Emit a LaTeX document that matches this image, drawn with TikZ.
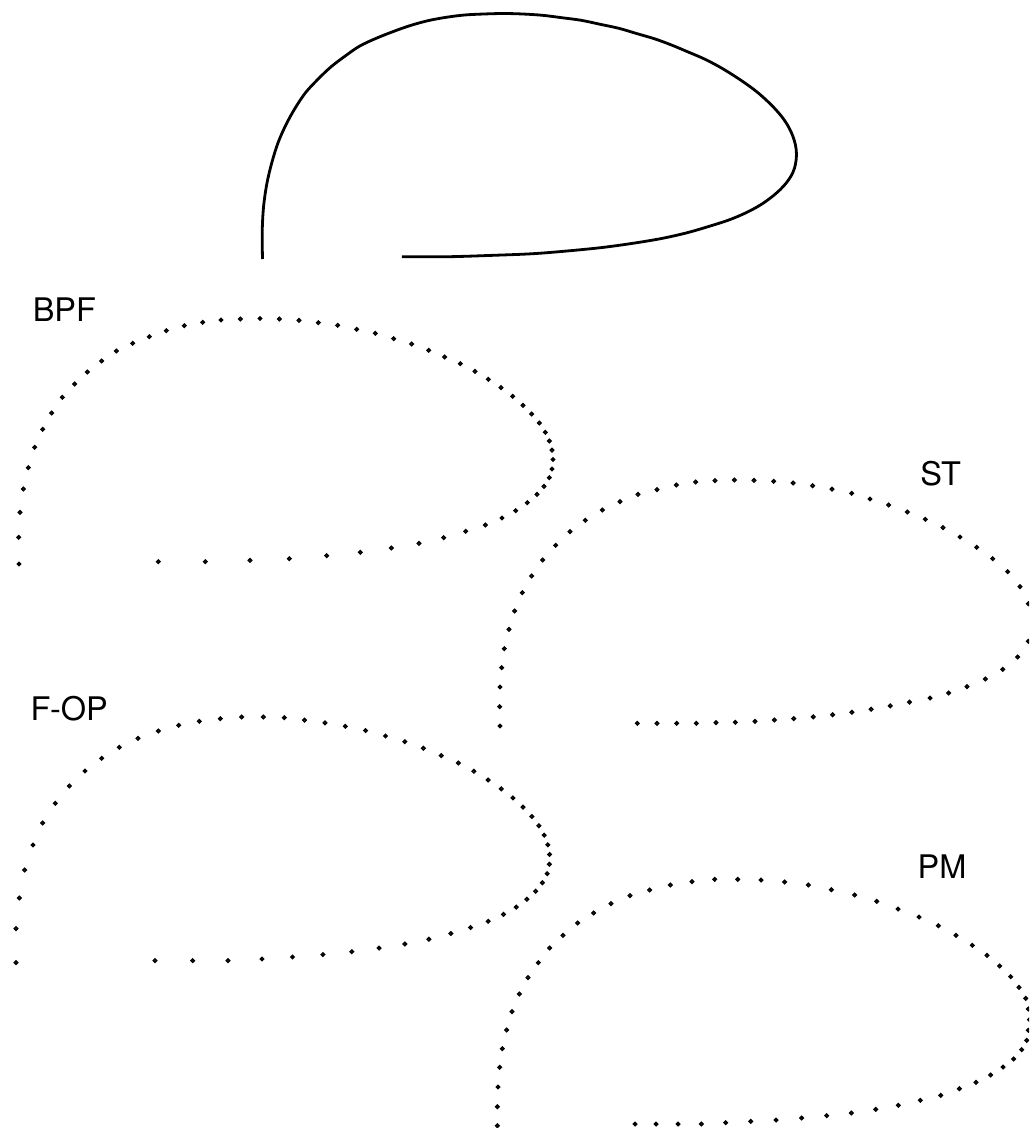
\documentclass[tikz,border=0pt]{standalone}
\usepackage{fontspec}
\setmainfont{TeX Gyre Heros}

\tikzset{
  ring/.style={draw=black, fill=white, line width=1.6pt},
  outlinepen/.style={draw=black, line width=2.8pt, line join=round},
  region label/.style={anchor=base west, inner sep=0pt, font=\fontsize{32.5}{39}\selectfont},
  % the common region outline, open at the bottom left
  pics/outline/.style={code={%
    \path[#1] plot[smooth, tension=0.55] coordinates {
      (19,564) (18.7,537.3) (20,512.3) (23.3,489) (28.3,467.7) (34.7,447.3)
      (42.7,429.3) (51.7,413) (62.3,397.3) (74.7,384) (87.3,372) (101.7,361)
      (116.3,351) (132.7,343.3) (149.3,336.7) (166.3,330.7) (184.3,325.7)
      (202.7,322.3) (221,320) (240.3,319) (260,318.5) (279.3,319) (299,320.3)
      (318.3,322.7) (337.7,325.3) (356.7,329.3) (375.3,333.3) (393.7,338.7)
      (411.7,344) (428.7,350.3) (444.7,357) (460.3,363.7) (475,371.3)
      (488.3,379.3) (501,387.7) (512.7,396.3) (523,405.3) (531.7,414)
      (539.3,423) (545.3,432.3) (549.3,441) (552,450.2) (553,459.5) (552,469)
      (549.3,477.7) (544,486.3) (537,494.3) (527.3,502.7) (515.7,510.7)
      (502,518) (485.3,525) (465.7,531.3) (443.7,537.7) (419,543.3)
      (391.3,548) (360.3,552.3) (326.7,555.7) (289.3,558.7) (250,560.3)
      (205.3,561.7) (158.3,561.7)};
  }}
}

\begin{document}
\begin{tikzpicture}[x=1pt, y=-1pt]
\useasboundingbox (0,0) rectangle (1029,1128);
\clip (0,0) rectangle (1029,1128);

% solid outline at the top
\pic[shift={(243.5,-305)}] {outline=outlinepen};

% BPF dotted outline
\foreach \x/\y in {
  19/564, 18.7/537.3, 20/512.3, 23.3/489, 28.3/467.7, 34.7/447.3,
  42.7/429.3, 51.7/413, 62.3/397.3, 74.7/384, 87.3/372, 101.7/361,
  116.3/351, 132.7/343.3, 149.3/336.7, 166.3/330.7, 184.3/325.7,
  202.7/322.3, 221/320, 240.3/319, 260/318.5, 279.3/319, 299/320.3,
  318.3/322.7, 337.7/325.3, 356.7/329.3, 375.3/333.3, 393.7/338.7,
  411.7/344, 428.7/350.3, 444.7/357, 460.3/363.7, 475/371.3,
  488.3/379.3, 501/387.7, 512.7/396.3, 523/405.3, 531.7/414,
  539.3/423, 545.3/432.3, 549.3/441, 552/450.2, 553/459.5, 552/469,
  549.3/477.7, 544/486.3, 537/494.3, 527.3/502.7, 515.7/510.7,
  502/518, 485.3/525, 465.7/531.3, 443.7/537.7, 419/543.3,
  391.3/548, 360.3/552.3, 326.7/555.7, 289.3/558.7, 250/560.3,
  205.3/561.7, 158.3/561.7}
  \draw[ring] (\x,\y) circle (1.6pt);

% F-OP dotted outline
\foreach \x/\y in {
  16/962.7, 16/928.7, 19.3/898, 24.7/870, 33/845, 42.7/823, 55.3/803.3,
  69.3/786, 85/771, 101.7/758.3, 119.3/747.3, 138/738.3, 158.3/731,
  178.7/725.3, 199.3/721.3, 220.3/718.7, 241.7/717, 263.3/717,
  284.3/717.7, 304.5/720.2, 325/722.8, 345.3/726.3, 365.6/730.6,
  385.5/736, 404.8/741.7, 423.4/748.2, 441.2/755.6, 458.3/763,
  473.9/771.2, 488.2/780, 501.2/788.9, 512.9/797.9, 523/807.1,
  531.8/816.5, 538.9/825.8, 544.2/835.2, 547.8/844.8, 549.6/854.4,
  549.4/864.2, 547.2/873.7, 542.4/882.8, 535.6/891.2, 526.9/899.2,
  516.2/907.1, 503.5/914.4, 488.2/921.3, 470.6/927.6, 450.9/933.5,
  428.9/939.2, 404.8/944, 379.1/948.1, 351.8/951.7, 322.9/954.6,
  292.5/957, 262/959, 228/960.7, 192.7/960.7, 155/960.7}
  \draw[ring] (\x,\y) circle (1.6pt);

% ST dotted outline
\foreach \x/\y in {
  500/726, 499.7/706.7, 500/687, 501.7/667.7, 504.3/648.7, 509/629.3,
  514.7/611, 522.3/592.7, 531.7/576, 542.7/560, 555.7/545.3, 570/531.7,
  585.3/520.3, 602.3/510, 620/501.7, 638/494.3, 657/489.7, 676.3/485,
  695.7/482, 715/480.7, 734.3/480, 754/480.3, 773.7/481.3, 793.2/483,
  812.6/485.7, 832/489.2, 851.7/493.3, 870/499, 888.7/505, 907.3/512,
  925.3/519.3, 943/527.7, 960/537, 976.7/547.3, 992.7/558.7,
  1007.7/571.7, 1020/586.7, 1028.3/603.7, 1032/622.5, 1028.3/641.3,
  1017.7/657, 1002.7/669.3, 985.3/679, 967/686.7, 948.7/693, 930/698,
  909.5/702.2, 890.2/705.9, 871.1/709.2, 851.9/712.2, 832.6/714.8,
  813.2/716.9, 793.8/718.6, 774.3/720, 755/721.3, 735.3/722.3,
  716/722.7, 696.3/723.3, 676.7/723.3, 657/723.3, 637.3/723.3}
  \draw[ring] (\x,\y) circle (1.6pt);

% PM dotted outline
\foreach \x/\y in {
  497.3/1125.7, 497.3/1106.7, 498/1087, 499.7/1067.3, 502.3/1048.7,
  506.7/1030, 512/1011.7, 519.3/994, 528/977.7, 538.3/962.7, 549.7/948,
  563/935.3, 577.7/923, 593.7/913, 611/903.7, 630/895.7, 649.7/890,
  670.3/885, 692/881.7, 714.7/879.3, 737.7/879.3, 761/880, 784.7/882,
  808.3/885, 831.3/889.7, 854.7/895, 876.7/901.3, 898/909, 919/917,
  938.3/925.7, 956/935.3, 972.3/945.3, 987/955.3, 999.7/966,
  1010.7/976.7, 1019/987.3, 1025.7/998.3, 1028.3/1009, 1029.5/1019.7,
  1028.3/1030.3, 1026.7/1040.3, 1021.7/1049.7, 1013.7/1059, 1003/1067,
  990.7/1075, 976/1082.3, 959.3/1088.7, 940.7/1095.3, 920.3/1100.3,
  898.3/1105.3, 875.7/1109.3, 851.3/1113, 826.7/1115.7, 801.7/1118,
  776/1120, 750.7/1121.3, 725.7/1122.7, 701.3/1124, 678/1124, 656/1124,
  635/1124}
  \draw[ring] (\x,\y) circle (1.6pt);

% region labels
\node[region label] (bpf) at (32.6,321.7) {BPF};
\node[region label] (fop) at (30.5,720.7) {F-OP};
\node[region label] (st)  at (920.1,485) {ST};
\node[region label] (pm)  at (917.4,878.3) {PM};
\end{tikzpicture}
\end{document}
